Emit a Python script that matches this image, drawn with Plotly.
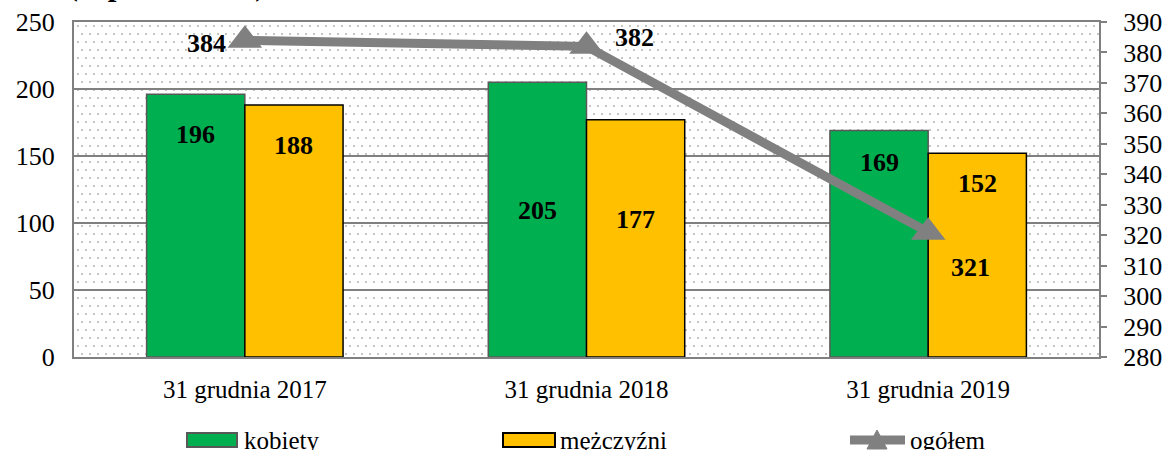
import plotly.graph_objects as go
import base64

categories = ["31 grudnia 2017", "31 grudnia 2018", "31 grudnia 2019"]
kobiety = [196, 205, 169]
mezczyzni = [188, 177, 152]
ogolem = [384, 382, 321]
left_ticks = [0, 50, 100, 150, 200, 250]
right_ticks = list(range(280, 391, 10))
series_names = ["kobiety", "mężczyźni", "ogółem"]

FONT = "Liberation Serif"
GREEN = "#00B050"
YELLOW = "#FFC000"
GREY = "#808080"

L, R, T, B = 74, 66, 22, 93
W, H = 1165 - L - R, 450 - T - B

def px_x(p):
    return (p - L) / W

def px_y(p):
    return (T + H - p) / H

# dotted background pattern (decoration) as an SVG image
dots = []
step = 8
for j, yy in enumerate(range(3, H, step)):
    off = 0 if j % 2 == 0 else step // 2
    for xx in range(3 + off, W, step):
        dots.append(f'<rect x="{xx}" y="{yy}" width="2" height="2" fill="#c4c4c4"/>')
svg = (f'<svg xmlns="http://www.w3.org/2000/svg" width="{W}" height="{H}" '
       f'viewBox="0 0 {W} {H}"><rect width="{W}" height="{H}" fill="white"/>'
       + "".join(dots) + "</svg>")
svg_uri = "data:image/svg+xml;base64," + base64.b64encode(svg.encode()).decode()

fig = go.Figure()
fig.add_trace(go.Bar(x=categories, y=kobiety, name=series_names[0], showlegend=False,
                     marker=dict(color=GREEN, line=dict(color="#595959", width=1.5))))
fig.add_trace(go.Bar(x=categories, y=mezczyzni, name=series_names[1], showlegend=False,
                     marker=dict(color=YELLOW, line=dict(color="#000000", width=1.5))))
fig.add_trace(go.Scatter(x=categories, y=ogolem, name=series_names[2], yaxis="y2",
                         mode="lines+markers", showlegend=False,
                         line=dict(color=GREY, width=9),
                         marker=dict(symbol="triangle-up", size=30, color=GREY)))

annotations = []
bar_shifts_k = [-40, -128, -32]
bar_shifts_m = [-40, -100, -30]
LBL = dict(family=FONT, size=26, color="black")
for i, c in enumerate(categories):
    annotations.append(dict(x=c, y=kobiety[i], xref="x", yref="y", text=f"<b>{kobiety[i]}</b>",
                            showarrow=False, xshift=-49, yshift=bar_shifts_k[i], font=LBL))
    annotations.append(dict(x=c, y=mezczyzni[i], xref="x", yref="y", text=f"<b>{mezczyzni[i]}</b>",
                            showarrow=False, xshift=49, yshift=bar_shifts_m[i], font=LBL))
line_shift = [(-38, -3), (48, 9), (42, -35)]
for i, c in enumerate(categories):
    annotations.append(dict(x=c, y=ogolem[i], xref="x", yref="y2", text=f"<b>{ogolem[i]}</b>",
                            showarrow=False, xshift=line_shift[i][0], yshift=line_shift[i][1],
                            font=LBL))
# clipped chart title at the very top
annotations.append(dict(x=px_x(268), y=px_y(4), xref="paper", yref="paper", xanchor="right",
                        yanchor="bottom", text="<b>Struktura (w procentach)</b>", showarrow=False,
                        font=dict(family=FONT, size=31, color="black")))

# custom legend (swatches as shapes, labels as annotations)
shapes = []
LEG_Y0, LEG_Y1, LEG_YC = px_y(447), px_y(433), px_y(440)
shapes.append(dict(type="rect", xref="paper", yref="paper", x0=px_x(187), x1=px_x(237),
                   y0=LEG_Y0, y1=LEG_Y1, fillcolor=GREEN, line=dict(color="#595959", width=2)))
shapes.append(dict(type="rect", xref="paper", yref="paper", x0=px_x(503), x1=px_x(555),
                   y0=LEG_Y0, y1=LEG_Y1, fillcolor=YELLOW, line=dict(color="#000000", width=2)))
shapes.append(dict(type="line", xref="paper", yref="paper", x0=px_x(850), x1=px_x(905),
                   y0=LEG_YC, y1=LEG_YC, line=dict(color=GREY, width=9)))
tx, ty0, ty1 = 877, 449, 430
shapes.append(dict(type="path", xref="paper", yref="paper",
                   path=f"M {px_x(tx-10)},{px_y(ty0)} L {px_x(tx+10)},{px_y(ty0)} L {px_x(tx)},{px_y(ty1)} Z",
                   fillcolor=GREY, line=dict(color=GREY, width=1)))
for name, xp in zip(series_names, [242, 558, 908]):
    annotations.append(dict(x=px_x(xp), y=LEG_YC, xref="paper", yref="paper", xanchor="left",
                            yanchor="middle", text=name, showarrow=False,
                            font=dict(family=FONT, size=25, color="black")))

fig.update_layout(
    width=1165, height=450,
    margin=dict(l=L, r=R, t=T, b=B, autoexpand=False),
    paper_bgcolor="white",
    plot_bgcolor="rgba(0,0,0,0)",
    barmode="group",
    bargap=0.425,
    bargroupgap=0,
    font=dict(family=FONT, size=24, color="black"),
    images=[dict(source=svg_uri, xref="paper", yref="paper", x=0, y=1, sizex=1, sizey=1,
                 xanchor="left", yanchor="top", sizing="stretch", layer="below")],
    xaxis=dict(showgrid=False, showline=True, linecolor=GREY, linewidth=2, mirror=True,
               ticks="", tickfont=dict(family=FONT, size=25), ticklabelstandoff=9,
               automargin=False),
    yaxis=dict(range=[0, 250], tickvals=left_ticks, showgrid=True, gridcolor=GREY, gridwidth=2,
               showline=True, linecolor=GREY, linewidth=2, ticks="", zeroline=False,
               tickfont=dict(family=FONT, size=26), ticklabelstandoff=12, automargin=False),
    yaxis2=dict(range=[280, 390], tickvals=right_ticks, overlaying="y", side="right",
                showgrid=False, showline=True, linecolor=GREY, linewidth=2, ticks="outside",
                ticklen=6, tickcolor=GREY, tickwidth=2, zeroline=False,
                tickfont=dict(family=FONT, size=26), ticklabelstandoff=11, automargin=False),
    annotations=annotations,
    shapes=shapes,
    showlegend=False,
)

fig.write_html(
    "out.html",
    config={"displayModeBar": False},
    post_script="document.body.style.margin='0';document.body.style.overflow='hidden';"
                "document.documentElement.style.overflow='hidden';",
)
